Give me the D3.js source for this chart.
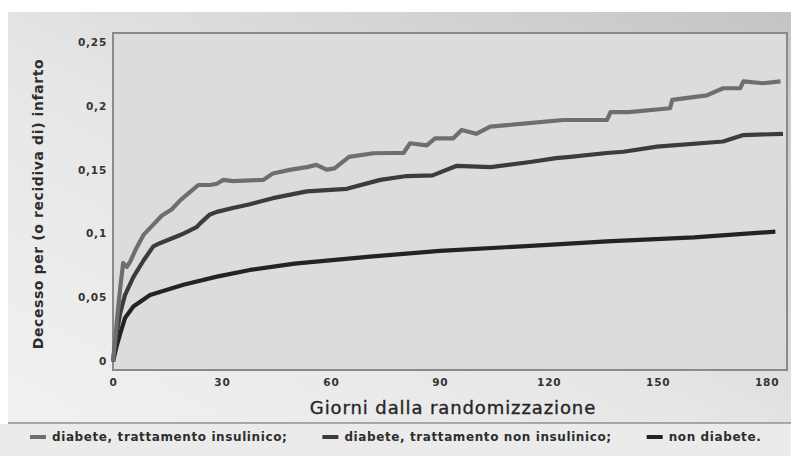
<!DOCTYPE html>
<html><head><meta charset="utf-8">
<script src="https://cdn.jsdelivr.net/npm/d3@7"></script>
<style>html,body{margin:0;padding:0;background:#fff;}svg{display:block;}</style>
</head><body><svg id="c" width="791" height="456"></svg>
<script>
// ---- data ----
const seriesNames = ["diabete, trattamento insulinico;", "diabete, trattamento non insulinico;", "non diabete."];
const insulinDays = [0,1,2,2.8,3.8,4.7,6.5,8.4,11.1,13.4,16.2,18.5,21,23.5,26.7,28.6,30.4,33,41.4,44,49,53.4,56,58.8,61,65,71.7,76,80,81.8,86.4,88.7,93.7,96,100,103.9,113,124,136,137,142,153.4,154,163.5,168,172.7,173.6,179,183.8];
const insulinVals = [0,0.03,0.058,0.077,0.074,0.078,0.089,0.099,0.107,0.114,0.119,0.126,0.132,0.138,0.138,0.139,0.142,0.141,0.142,0.147,0.15,0.152,0.1537,0.15,0.151,0.16,0.1628,0.163,0.163,0.1706,0.169,0.1745,0.1745,0.181,0.178,0.1836,0.186,0.1888,0.1888,0.195,0.195,0.198,0.2045,0.208,0.2136,0.2136,0.219,0.2175,0.219];
const nonInsulinDays = [0,1,2,3.3,5.6,8.4,11.1,12.9,17.5,19.4,23,24,26.7,28.6,33,37.7,44,53.4,64.4,73.6,80.9,88,94.7,104,114.9,122,125.9,136,140.6,149.8,168,173.6,184.5];
const nonInsulinVals = [0,0.022,0.038,0.052,0.066,0.079,0.09,0.0925,0.0977,0.1,0.105,0.108,0.115,0.117,0.12,0.123,0.1277,0.133,0.135,0.142,0.145,0.1455,0.153,0.152,0.156,0.159,0.16,0.163,0.164,0.168,0.172,0.177,0.178];
const noDiabDays = [0,1,2,3.3,5.6,10.2,19.4,28.6,37.7,50,70.8,90,118.6,136,160,182.4];
const noDiabVals = [0,0.012,0.022,0.034,0.043,0.052,0.06,0.0664,0.0716,0.0765,0.082,0.0865,0.091,0.094,0.097,0.1016];
const xTicks = [0,30,60,90,120,150,180];
const yTicks = [0,0.05,0.1,0.15,0.2,0.25];
const yTickLabels = ["0","0,05","0,1","0,15","0,2","0,25"];
const xTitle = "Giorni dalla randomizzazione";
const yTitle = "Decesso per (o recidiva di) infarto";

const colors = ["#6e6e6e", "#3c3c3c", "#232323"];

const svg = d3.select("#c");
const defs = svg.append("defs");
const g1 = defs.append("linearGradient").attr("id","bg").attr("x1","0").attr("y1","1").attr("x2","1").attr("y2","0");
g1.append("stop").attr("offset","0").attr("stop-color","#f1f1f1");
g1.append("stop").attr("offset","0.45").attr("stop-color","#e6e6e6");
g1.append("stop").attr("offset","1").attr("stop-color","#c4c4c4");

// panel background
svg.append("rect").attr("x",8).attr("y",12).attr("width",783).attr("height",411).attr("fill","url(#bg)");
// legend area
svg.append("rect").attr("x",0).attr("y",424).attr("width",791).attr("height",32).attr("fill","#ebebeb");
svg.append("line").attr("x1",8).attr("x2",791).attr("y1",423).attr("y2",423).attr("stroke","#8c8c8c").attr("stroke-width",1.5);

const L = 113, R = 787, T = 33, B = 370;
const x = d3.scaleLinear().domain([0,185.6]).range([L,R]);
const y = d3.scaleLinear().domain([-0.0066,0.2568]).range([B,T]);

svg.append("rect").attr("x",L).attr("y",T).attr("width",R-L).attr("height",B-T)
  .attr("fill","#dcdcdc").attr("stroke","#8a8a8a").attr("stroke-width",2);

// axes
const yAxis = d3.axisLeft(y).tickValues(yTicks).tickSize(0).tickPadding(6)
  .tickFormat((d,i)=>yTickLabels[i]);
const ya = svg.append("g").attr("transform",`translate(${L},0)`).call(yAxis);
const xAxis = d3.axisBottom(x).tickValues(xTicks).tickSize(0).tickPadding(9).tickFormat(d=>String(d));
const xa = svg.append("g").attr("transform",`translate(0,${B})`).call(xAxis);
[ya,xa].forEach(a=>{
  a.select(".domain").remove();
  a.selectAll("text").attr("font-family","DejaVu Sans").attr("font-weight","bold")
    .attr("font-size",10.5).attr("letter-spacing",0.8).attr("fill","#333");
});

// lines
const series = [
  {days: insulinDays, vals: insulinVals},
  {days: nonInsulinDays, vals: nonInsulinVals},
  {days: noDiabDays, vals: noDiabVals}
];
const line = d3.line().x(d=>x(d[0])).y(d=>y(d[1])).curve(d3.curveLinear);
const order = [2,1,0];
order.forEach(i=>{
  const s = series[i];
  const pts = s.days.map((d,k)=>[d, s.vals[k]]);
  svg.append("path").datum(pts).attr("d",line).attr("fill","none")
    .attr("stroke",colors[i]).attr("stroke-width",4.2).attr("stroke-linejoin","round");
});

// titles
svg.append("text").attr("x",453).attr("y",414).attr("text-anchor","middle")
  .attr("font-family","DejaVu Sans").attr("font-size",18).attr("letter-spacing",0.9)
  .attr("fill","#262626").attr("stroke","#262626").attr("stroke-width",0.35).text(xTitle);
svg.append("text").attr("transform","translate(43,204) rotate(-90)").attr("text-anchor","middle")
  .attr("font-family","DejaVu Sans").attr("font-weight","bold").attr("font-size",14).attr("letter-spacing",0.6)
  .attr("fill","#2e2e2e").text(yTitle);

// legend
const lg = svg.append("g");
let cx = 30;
seriesNames.forEach((n,i)=>{
  lg.append("line").attr("x1",cx).attr("x2",cx+16).attr("y1",437).attr("y2",437)
    .attr("stroke",colors[i]).attr("stroke-width",4);
  const t = lg.append("text").attr("x",cx+22).attr("y",441)
    .attr("font-family","DejaVu Sans").attr("font-weight","bold").attr("font-size",12).attr("letter-spacing",0.6)
    .attr("fill","#2e2e2e").text(n);
  cx = cx + 22 + t.node().getComputedTextLength() + 35;
});
</script></body></html>
